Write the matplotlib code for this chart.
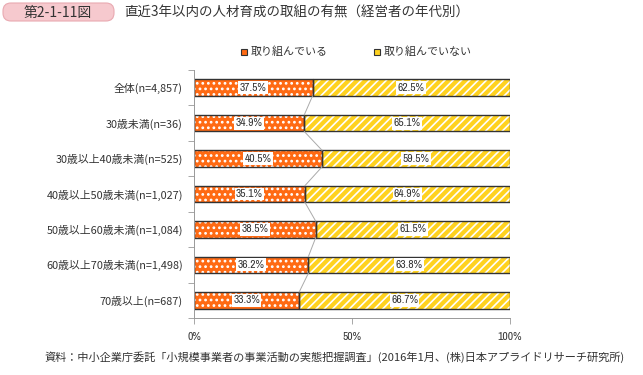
import matplotlib
matplotlib.use("Agg")
import matplotlib.pyplot as plt
from matplotlib.patches import FancyBboxPatch, Rectangle
from matplotlib import font_manager

plt.rcParams['font.family'] = ['Noto Sans CJK JP', 'DejaVu Sans']
plt.rcParams['hatch.linewidth'] = 1.2

names = {f.name for f in font_manager.fontManager.ttflist}
numfam = ['Archivo Narrow'] if 'Archivo Narrow' in names else ['DejaVu Sans']
numsize = 8.3

categories = ["全体(n=4,857)", "30歳未満(n=36)", "30歳以上40歳未満(n=525)",
              "40歳以上50歳未満(n=1,027)", "50歳以上60歳未満(n=1,084)",
              "60歳以上70歳未満(n=1,498)", "70歳以上(n=687)"]
doing = [37.5, 34.9, 40.5, 35.1, 38.5, 36.2, 33.3]
not_doing = [62.5, 65.1, 59.5, 64.9, 61.5, 63.8, 66.7]
series_names = ["取り組んでいる", "取り組んでいない"]
xticks = [0, 50, 100]
xticklabels = ["0%", "50%", "100%"]

W, H = 643, 375
fig = plt.figure(figsize=(W/100, H/100), dpi=100)

orange = "#FF6A13"
yellow = "#FFD21F"
edge = "#333333"
txtc = "#333333"

ax = fig.add_axes([194/W, 1-318/H, 316/W, 248/H])
n = len(categories)
y = list(range(n))
bh = 0.47

ax.barh(y, doing, height=bh, color=orange, hatch='...', edgecolor='white', linewidth=0)
ax.barh(y, not_doing, left=doing, height=bh, color=yellow, hatch='////', edgecolor='white', linewidth=0)
ax.barh(y, doing, height=bh, fill=False, edgecolor=edge, linewidth=1.0)
ax.barh(y, not_doing, left=doing, height=bh, fill=False, edgecolor=edge, linewidth=1.0)

for i in range(n - 1):
    ax.plot([doing[i], doing[i+1]], [i + bh/2, i + 1 - bh/2], color="#AAAAAA", lw=0.7)

box = dict(boxstyle="square,pad=0.12", fc="white", ec="none")
for i in range(n):
    ax.text(doing[i]/2, i, f"{doing[i]:.1f}%", ha='center', va='center', fontsize=numsize,
            color=txtc, bbox=box, family=numfam)
    ax.text(doing[i] + not_doing[i]/2, i, f"{not_doing[i]:.1f}%", ha='center', va='center',
            fontsize=numsize, color=txtc, bbox=box, family=numfam)

ax.set_xlim(0, 100)
ax.set_ylim(n - 0.5, -0.5)
ax.set_yticks(y)
ax.set_yticklabels(categories, fontsize=7.8, color=txtc)
ax.tick_params(axis='y', length=0, pad=8)
ax.set_yticks([i + 0.5 for i in range(-1, n)], minor=True)
ax.tick_params(axis='y', which='minor', length=4, color="#999999", width=0.6)
ax.set_xticks(xticks)
ax.set_xticklabels(xticklabels, fontsize=numsize, color=txtc, family=numfam)
ax.tick_params(axis='x', length=4, color="#999999", width=0.6, pad=6)
for s in ['top', 'right']:
    ax.spines[s].set_visible(False)
for s in ['left', 'bottom']:
    ax.spines[s].set_color("#999999")
    ax.spines[s].set_linewidth(0.7)

# overlay in pixel coordinates
ov = fig.add_axes([0, 0, 1, 1], zorder=-1)
ov.set_xlim(0, W)
ov.set_ylim(H, 0)
ov.axis('off')

# Legend
lx = [241, 374]
for k, (name, c) in enumerate(zip(series_names, [orange, yellow])):
    ov.add_patch(Rectangle((lx[k], 49), 6, 6, fc=c, ec=edge, lw=0.8))
    ov.text(lx[k] + 10, 52, name, fontsize=7.9, va='center', ha='left', color=txtc)

# Title
ov.add_patch(FancyBboxPatch((3, 3), 111, 18, boxstyle="round,pad=0,rounding_size=8",
                            fc="#F6C9CE", ec="#E9A9B1", lw=0.8))
ov.text(58, 12.5, "第2-1-11図", fontsize=10, ha='center', va='center', color=txtc)
ov.text(124, 12.5, "直近3年以内の人材育成の取組の有無（経営者の年代別）", fontsize=9.7,
        ha='left', va='center', color=txtc)

# Footer
ov.text(45, 357,
        "資料：中小企業庁委託「小規模事業者の事業活動の実態把握調査」(2016年1月、(株)日本アプライドリサーチ研究所)",
        fontsize=8.05, ha='left', va='center', color=txtc)

fig.savefig("out.png", dpi=100)
